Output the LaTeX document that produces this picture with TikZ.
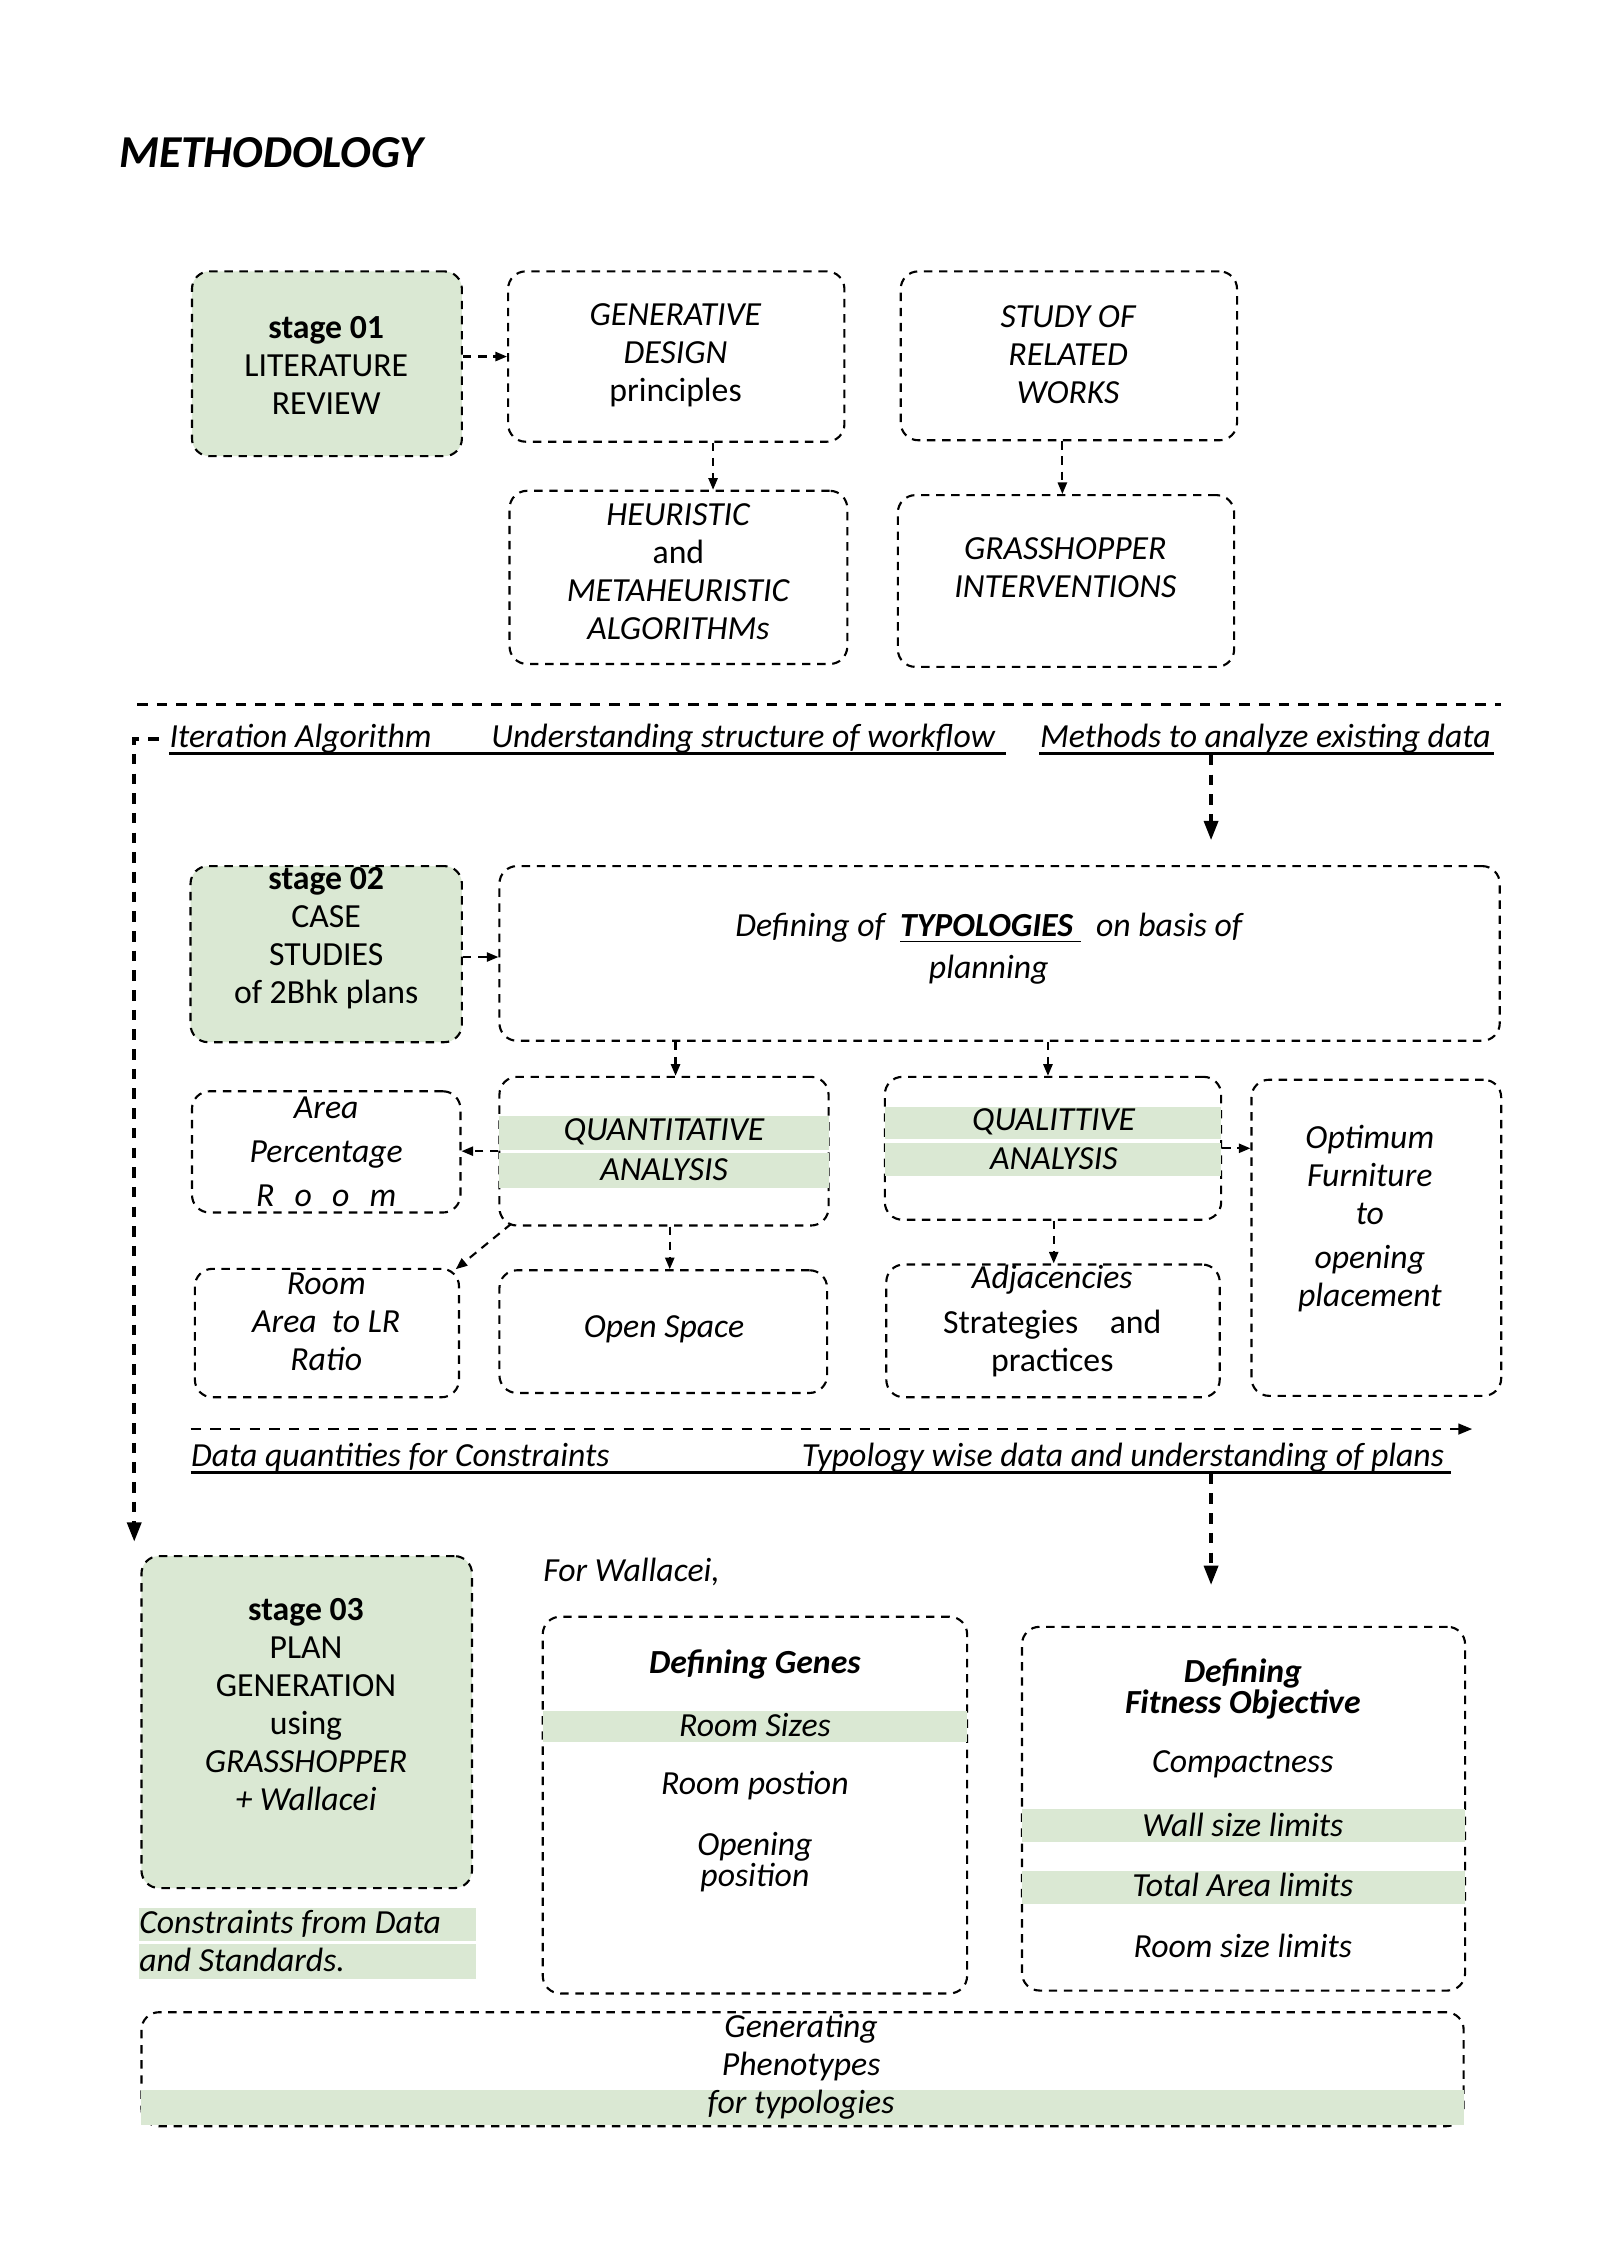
\documentclass[tikz,border=0pt]{standalone}
\usepackage{fontspec}
\setmainfont{Carlito}
\usetikzlibrary{arrows.meta,fit,calc}
\definecolor{bandgreen}{RGB}{218,232,211}
\tikzset{x=0.01444cm, y=-0.01444cm,
  box/.style={draw, line width=0.6pt, dash pattern=on 2.4pt off 1.9pt, rounded corners=5pt, inner sep=0pt},
  stagebox/.style={box, fill=bandgreen},
  band/.style={fill=bandgreen},
  txt/.style={align=center, inner sep=0pt, font=\fontsize{9.6}{10.8}\selectfont},
  itxt/.style={txt, font=\fontsize{9.6}{10.8}\selectfont\itshape},
  lbl/.style={inner sep=0pt, anchor=base west, font=\fontsize{9.6}{10.8}\selectfont\itshape},
  uline/.style={line width=0.7pt},
  sepline/.style={line width=0.8pt, dash pattern=on 3pt off 2.6pt},
  arr/.style={line width=0.6pt, dash pattern=on 2.4pt off 1.9pt, -{Triangle[length=3.3pt,width=2.6pt]}},
  midarr/.style={line width=0.8pt, dash pattern=on 3pt off 2.6pt, -{Triangle[length=4pt,width=3pt]}},
  bigarr/.style={line width=1pt, dash pattern=on 3pt off 2.6pt, -{Triangle[length=5.5pt,width=4pt]}}}

\begin{document}
\begin{tikzpicture}
\useasboundingbox (0,0) rectangle (16cm,-22.62cm);
\node[inner sep=0pt, anchor=base west, font=\fontsize{13}{15}\selectfont\bfseries\itshape] (title) at (82,116) {METHODOLOGY};

\node[stagebox, fit={(133,188) (320,316)}] (lit) {};
\node[box, fit={(352,188) (585,306)}] (gen) {};
\node[box, fit={(624,188) (857,305)}] (study) {};
\node[box, fit={(353,340) (587,460)}] (heu) {};
\node[box, fit={(622,343) (855,462)}] (grass) {};
\node[txt] (littxt) at (226,253) {\textbf{stage 01}\\LITERATURE\\REVIEW};
\node[txt] (gentxt) at (468,246) {\textit{GENERATIVE}\\\textit{DESIGN}\\principles};
\node[itxt] (studytxt) at (740,246) {STUDY OF\\RELATED\\WORKS};
\node[txt] (heutxt) at (470,396) {\textit{HEURISTIC}\\and\\\textit{METAHEURISTIC}\\\textit{ALGORITHMs}};
\node[itxt] (grasstxt) at (738,393) {GRASSHOPPER\\INTERVENTIONS};
\draw[arr] (lit.east |- gen.west) -- (gen.west);
\draw[arr] (gen.south -| 494,0) -- (heu.north -| 494,0);
\draw[arr] (study.south -| 736,0) -- (grass.north -| 736,0);

\coordinate (s1) at (95,488);
\coordinate (s2) at (1040,488);
\draw[sepline] (s1) -- (s2);
\node[lbl] (iter) at (117,518) {Iteration Algorithm};
\node[lbl] (under) at (340,518) {Understanding structure of workflow};
\node[lbl] (meth) at (720,518) {Methods to analyze existing data};
\draw[uline] (117,522) -- (697,522);
\draw[uline] (720,522) -- (1035,522);
\coordinate (m1) at (839,523);
\coordinate (m2) at (839,582);
\draw[bigarr] (m1) -- (m2);
\coordinate (l1) at (110,512);
\coordinate (l2) at (93,1068);
\draw[bigarr] (l1) -- (l2 |- l1) -- (l2);

\node[stagebox, fit={(132,600) (320,722)}] (case) {};
\node[box, fit={(346,600) (1039,721)}] (typ) {};
\node[txt] (casetxt) at (226,650) {\textbf{stage 02}\\CASE\\STUDIES\\of 2Bhk plans};
\node[itxt] (typtxt) at (685,657) {Defining of \ \underline{\textbf{TYPOLOGIES}\ } \ on basis of\\[1.2pt]planning};
\draw[arr] (case.east |- 0,663) -- (typ.west |- 0,663);

\node[box, fit={(346,746) (574,849)}] (quant) {};
\node[box, fit={(613,746) (846,845)}] (qual) {};
\node[box, fit={(133,756) (319,840)}] (area) {};
\node[box, fit={(867,748) (1040,967)}] (opt) {};
\node[box, fit={(135,879) (318,968)}] (room) {};
\node[box, fit={(346,880) (573,965)}] (open) {};
\node[box, fit={(614,876) (845,968)}] (adj) {};
\fill[band] (346,773) rectangle (574,797);
\fill[band] (346,799) rectangle (574,823);
\fill[band] (613,767) rectangle (846,789);
\fill[band] (613,792) rectangle (846,815);
\node[itxt] (quant1) at (460,784) {QUANTITATIVE};
\node[itxt] (quant2) at (460,810) {ANALYSIS};
\node[itxt] (qual1) at (730,777) {QUALITTIVE};
\node[itxt] (qual2) at (730,803) {ANALYSIS};
\node[itxt] (areatxt) at (226,798) {Area\\[1.7pt]Percentage\\[1.7pt]R\hspace{0.6em}o\hspace{0.6em}o\hspace{0.6em}m};
\node[itxt] (opttxt) at (949,844) {Optimum\\Furniture\\to\\[1.7pt]opening\\placement};
\node[itxt] (roomtxt) at (226,916) {Room\\Area\ \ to LR\\Ratio};
\node[itxt] (opentxt) at (460,921) {Open Space};
\node[txt] (adjtxt) at (729,915) {\textit{Adjacencies}\\[2pt]Strategies\hspace{9pt}and\\practices};
\draw[arr] (typ.south -| 468,0) -- (quant.north -| 468,0);
\draw[arr] (typ.south -| 726,0) -- (qual.north -| 726,0);
\draw[arr] (quant.west) -- (quant.west -| area.east);
\draw[arr] (qual.east) -- (qual.east -| opt.west);
\draw[arr] ($(quant.south west)+(9,-2)$) -- ($(room.north east)+(-3,1)$);
\draw[arr] (quant.south -| 464,0) -- (open.north -| 464,0);
\draw[arr] (qual.south -| 730,0) -- (adj.north -| 730,0);

\coordinate (d1) at (132,990);
\coordinate (d2) at (1020,990);
\draw[midarr] (d1) -- (d2);
\node[lbl] (dataq) at (132,1016) {Data quantities for Constraints};
\node[lbl] (typw) at (555,1016) {Typology wise data and understanding of plans};
\draw[uline] (132,1020) -- (1005,1020);
\coordinate (t1) at (839,1021);
\coordinate (t2) at (839,1098);
\draw[bigarr] (t1) -- (t2);

\node[stagebox, fit={(98,1078) (327,1308)}] (plan) {};
\node[box, fit={(376,1120) (670,1381)}] (genes) {};
\node[box, fit={(708,1127) (1015,1379)}] (fit) {};
\node[box, fit={(98,1394) (1014,1473)}] (phen) {};
\fill[band] (96,1322) rectangle (330,1345);
\fill[band] (96,1347) rectangle (330,1371);
\fill[band] (376,1185) rectangle (670,1207);
\fill[band] (708,1253) rectangle (1015,1276);
\fill[band] (708,1296) rectangle (1015,1319);
\fill[band] (98,1448) rectangle (1014,1472);
\node[txt] (plantxt) at (212,1181) {\textbf{stage 03}\\PLAN\\GENERATION\\using\\\textit{GRASSHOPPER}\\\textit{+ Wallacei}};
\node[itxt, anchor=west] (cons1) at (96,1333) {Constraints from Data};
\node[itxt, anchor=west] (cons2) at (96,1358) {and Standards.};
\node[itxt, anchor=west] (wall) at (376,1089) {For Wallacei,};
\node[itxt, font=\fontsize{9.6}{10.8}\selectfont\bfseries\itshape] (genes1) at (523,1153) {Defining Genes};
\node[itxt] (genes2) at (523,1195) {Room Sizes};
\node[itxt] (genes3) at (523,1237) {Room postion};
\node[itxt, font=\fontsize{9.6}{8.8}\selectfont\itshape] (genes4) at (523,1290) {Opening\\position};
\node[itxt, font=\fontsize{9.6}{8.8}\selectfont\bfseries\itshape] (fit1) at (861,1170) {Defining\\Fitness Objective};
\node[itxt] (fit2) at (861,1222) {Compactness};
\node[itxt] (fit3) at (861,1264) {Wall size limits};
\node[itxt] (fit4) at (861,1306) {Total Area limits};
\node[itxt] (fit5) at (861,1348) {Room size limits};
\node[itxt] (phentxt) at (555,1432) {Generating\\Phenotypes\\for typologies};
\end{tikzpicture}
\end{document}
